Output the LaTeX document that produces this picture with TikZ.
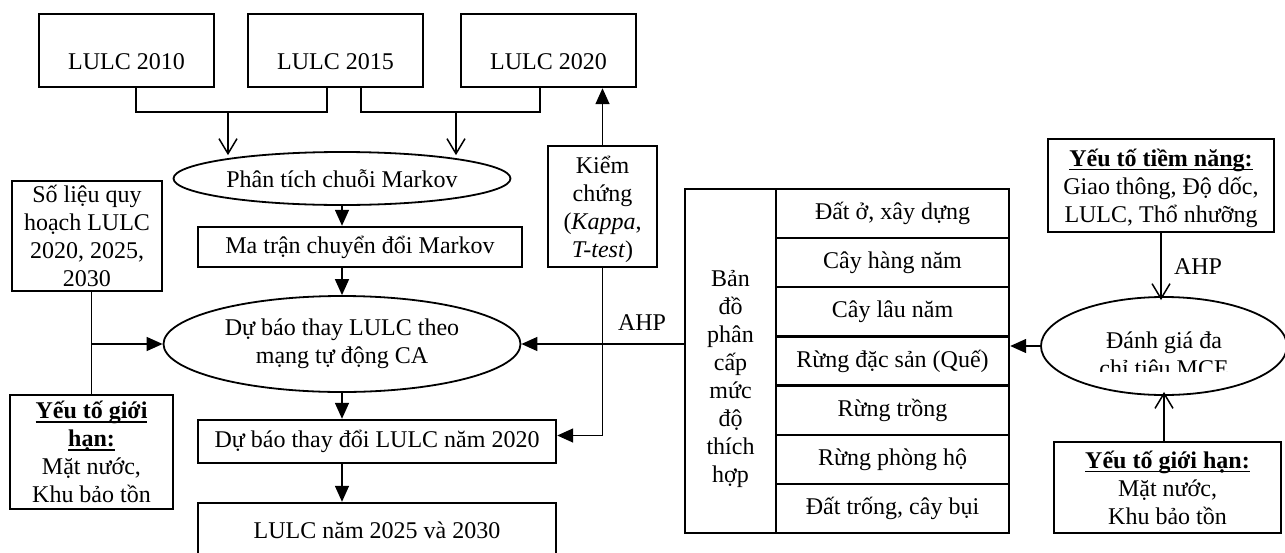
\documentclass[tikz,border=0pt]{standalone}
\usepackage{fontspec}
\setmainfont{Liberation Serif}
\usetikzlibrary{arrows.meta,shapes.geometric}
\tikzset{
  txt/.style={font=\fontsize{12}{14}\selectfont, align=center, inner sep=0pt},
  box/.style={txt, draw, line width=1.2pt},
  oval/.style={txt, draw, ellipse, line width=0.9pt},
  map/.style={box, minimum width=87.5pt, minimum height=36.5pt, text height=19pt, text depth=0pt},
  cell/.style={box, minimum width=116.5pt, minimum height=24.57pt},
  link/.style={line width=0.75pt},
  fillarrow/.style={link, -{Triangle[length=8pt,width=7pt]}},
  openarrow/.style={link, -{Straight Barb[length=7.5pt,width=9pt]}, shorten >=-2pt}
}
\newcommand{\hd}[1]{\setbox0\hbox{\textbf{#1}}\rlap{\rule[-2pt]{\wd0}{0.7pt}}\box0}
\begin{document}
\begin{tikzpicture}[x=0.5pt, y=-0.5pt]
  \useasboundingbox (0,0) rectangle (1285,552);
  % input maps
  \node[map] (l2010) at (126.5,50.5) {LULC 2010};
  \node[map] (l2015) at (335.5,50.5) {LULC 2015};
  \node[map] (l2020) at (548.5,50.5) {LULC 2020};
  % Markov / CA column
  \node[oval, minimum width=168.5pt, minimum height=26.5pt] (markov) at (342,178.5) {Phân tích chuỗi Markov};
  \node[box, minimum width=162pt, minimum height=20pt] (matran) at (360,247) {Ma trận chuyển đổi Markov};
  \node[oval, minimum width=178.5pt, minimum height=48pt] (dubao) at (342,344) {Dự báo thay LULC theo\\mạng tự động CA};
  \node[box, minimum width=179pt, minimum height=21.5pt] (d2020) at (377,441.5) {Dự báo thay đổi LULC năm 2020};
  \node[box, minimum width=179pt, minimum height=27pt] (l2025) at (377,530) {LULC năm 2025 và 2030};
  % left inputs
  \node[box, minimum width=75pt, minimum height=55pt] (solieu) at (87,236) {Số liệu quy\\hoạch LULC\\2020, 2025,\\2030};
  \node[box, minimum width=81.5pt, minimum height=57pt] (gioihanL) at (91.5,452) {\hd{Yếu tố giới}\\\hd{hạn:}\\Mặt nước,\\Khu bảo tồn};
  \node[box, minimum width=54.5pt, minimum height=60.5pt, text depth=0pt] (kiem) at (602.5,206.5) {Kiểm\\chứng\\(\textit{Kappa},\\\textit{T-test})};
  % suitability table
  \node[box, minimum width=45.5pt, minimum height=172pt] (bando) at (730.5,361) {};
  \node[txt] (bandotext) at (730.5,379) {Bản\\đồ\\phân\\cấp\\mức\\độ\\thích\\hợp};
  \foreach \t [count=\i] in {{Đất ở, xây dựng}, Cây hàng năm, Cây lâu năm, Rừng đặc sản (Quế),
      Rừng trồng, Rừng phòng hộ, {Đất trống, cây bụi}}
    \node[cell] (row\i) at (892.5,{189+49.14*(\i-0.5)}) {\t};
  % MCE side
  \node[box, minimum width=113pt, minimum height=46.5pt, text depth=0pt] (tiemnang) at (1161,185.5) {\hd{Yếu tố tiềm năng:}\\Giao thông, Độ dốc,\\LULC, Thổ nhưỡng};
  \node[oval, minimum width=123pt, minimum height=49pt] (mce) at (1164,346) {};
  \begin{scope}
    \clip (1040,290) rectangle (1290,371);
    \node[txt] (mcetext) at (1164,354) {Đánh giá đa\\chỉ tiêu MCE};
  \end{scope}
  \node[box, minimum width=113.5pt, minimum height=45.5pt] (gioihanR) at (1167.5,487.5) {\hd{Yếu tố giới hạn:}\\Mặt nước,\\Khu bảo tồn};
  \node[txt] (ahpL) at (642,323) {AHP};
  \node[txt] (ahpR) at (1198,267) {AHP};
  % connectors
  \coordinate (j1) at (228,112);
  \coordinate (j2) at (456,112);
  \draw[link] ([xshift=4.75pt]l2010.south) |- (j1) -| ([xshift=-4.25pt]l2015.south);
  \draw[link] ([xshift=12.75pt]l2015.south) |- (j2) -| ([xshift=-4.25pt]l2020.south);
  \draw[openarrow] (j1) -- (j1 |- markov.north);
  \draw[openarrow] (j2) -- (j2 |- markov.north);
  \draw[fillarrow] (markov.south) -- (markov.south |- matran.north);
  \draw[fillarrow] (markov.south |- matran.south) -- (dubao.north);
  \draw[fillarrow] (dubao.south) -- (dubao.south |- d2020.north);
  \draw[fillarrow] (dubao.south |- d2020.south) -- (dubao.south |- l2025.north);
  \draw[link] (gioihanL.north) -- (gioihanL.north |- solieu.south);
  \draw[fillarrow] (gioihanL.north |- dubao.west) -- (dubao.west);
  \draw[fillarrow] (kiem.north) -- (kiem.north |- l2020.south);
  \draw[fillarrow] (kiem.south) |- ([yshift=3pt]d2020.east);
  \draw[fillarrow] (bando.west |- dubao.east) -- (dubao.east);
  \draw[fillarrow] (mce.west) -- (row4.east |- mce.west);
  \draw[openarrow] (tiemnang.south) -- (tiemnang.south |- mce.north);
  \draw[openarrow] (mce.south |- gioihanR.north) -- (mce.south);
\end{tikzpicture}
\end{document}
